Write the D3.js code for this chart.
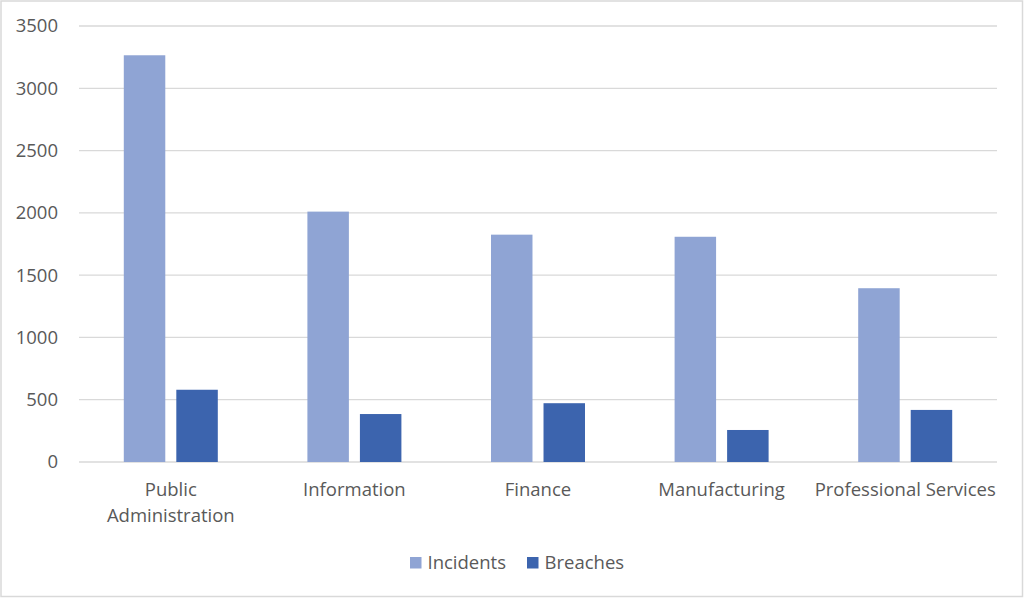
<!DOCTYPE html>
<html>
<head>
<meta charset="utf-8">
<script src="https://cdn.jsdelivr.net/npm/d3@7"></script>
<style>
  body { margin: 0; background: #fff; }
  text { font-family: "Open Sans", sans-serif; fill: #595959; }
</style>
</head>
<body>
<div class="chart"></div>
<script>
// data
var categories = ["Public Administration", "Information", "Finance", "Manufacturing", "Professional Services"];
var seriesNames = ["Incidents", "Breaches"];
var incidents = [3265, 2010, 1825, 1808, 1395];
var breaches = [580, 385, 472, 257, 418];
var yTicks = [0, 500, 1000, 1500, 2000, 2500, 3000, 3500];

var colors = { Incidents: "#8fa4d4", Breaches: "#3c64ae" };

var svgWidth = 1024;
var svgHeight = 598;
var fontSize = "18.5px";

var plot = { left: 79, right: 997, top: 26, bottom: 462 };

var svg = d3.select(".chart")
  .append("svg")
  .attr("width", svgWidth)
  .attr("height", svgHeight);

// chart border
svg.append("rect")
  .attr("x", 1)
  .attr("y", 1)
  .attr("width", svgWidth - 2.5)
  .attr("height", svgHeight - 2.5)
  .attr("fill", "#fff")
  .attr("stroke", "#d9d9d9")
  .attr("stroke-width", 1.5);

var x0 = d3.scaleBand()
  .domain(categories)
  .range([plot.left, plot.right])
  .paddingInner(0.488)
  .paddingOuter(0.244);

var x1 = d3.scaleBand()
  .domain(seriesNames)
  .range([0, x0.bandwidth()])
  .paddingInner(0.21);

var y = d3.scaleLinear()
  .domain([0, 3500])
  .range([plot.bottom, plot.top]);

// gridlines
svg.append("g")
  .selectAll("line")
  .data(yTicks)
  .enter()
  .append("line")
  .attr("x1", plot.left)
  .attr("x2", plot.right)
  .attr("y1", d => y(d))
  .attr("y2", d => y(d))
  .attr("stroke", "#d9d9d9")
  .attr("stroke-width", 1.3);

// y axis labels
var yAxis = d3.axisLeft(y)
  .tickValues(yTicks)
  .tickFormat(d3.format("d"))
  .tickSize(0)
  .tickPadding(21);
var yG = svg.append("g")
  .attr("transform", `translate(${plot.left}, 0)`)
  .call(yAxis);
yG.select(".domain").remove();
yG.selectAll("text")
  .style("font-size", fontSize)
  .style("font-family", "'Open Sans', sans-serif")
  .attr("fill", "#595959");

// bars
var rows = categories.map((c, i) => ({ category: c, Incidents: incidents[i], Breaches: breaches[i] }));

var groups = svg.append("g")
  .selectAll("g")
  .data(rows)
  .enter()
  .append("g")
  .attr("transform", d => `translate(${x0(d.category)}, 0)`);

groups.selectAll("rect")
  .data(d => seriesNames.map(k => ({ key: k, value: d[k] })))
  .enter()
  .append("rect")
  .attr("x", d => x1(d.key))
  .attr("y", d => y(d.value))
  .attr("width", x1.bandwidth())
  .attr("height", d => y(0) - y(d.value))
  .attr("fill", d => colors[d.key]);

// x axis labels (wrapped like Excel)
var xLabels = {
  "Public Administration": ["Public", "Administration"]
};
var xG = svg.append("g");
categories.forEach(function(c) {
  var lines = xLabels[c] || [c];
  var t = xG.append("text")
    .attr("x", x0(c) + x0.bandwidth() / 2)
    .attr("y", 496)
    .attr("text-anchor", "middle")
    .style("font-size", fontSize);
  lines.forEach(function(l, i) {
    t.append("tspan")
      .attr("x", x0(c) + x0.bandwidth() / 2)
      .attr("dy", i === 0 ? 0 : 26)
      .text(l);
  });
});

// legend
var legend = svg.append("g");
var legendItems = [
  { key: "Incidents", x: 410 },
  { key: "Breaches", x: 527 }
];
legendItems.forEach(function(d) {
  legend.append("rect")
    .attr("x", d.x)
    .attr("y", 557)
    .attr("width", 11.5)
    .attr("height", 11.5)
    .attr("fill", colors[d.key]);
  legend.append("text")
    .attr("x", d.x + 17.5)
    .attr("y", 569)
    .style("font-size", fontSize)
    .text(d.key);
});
</script>
</body>
</html>
